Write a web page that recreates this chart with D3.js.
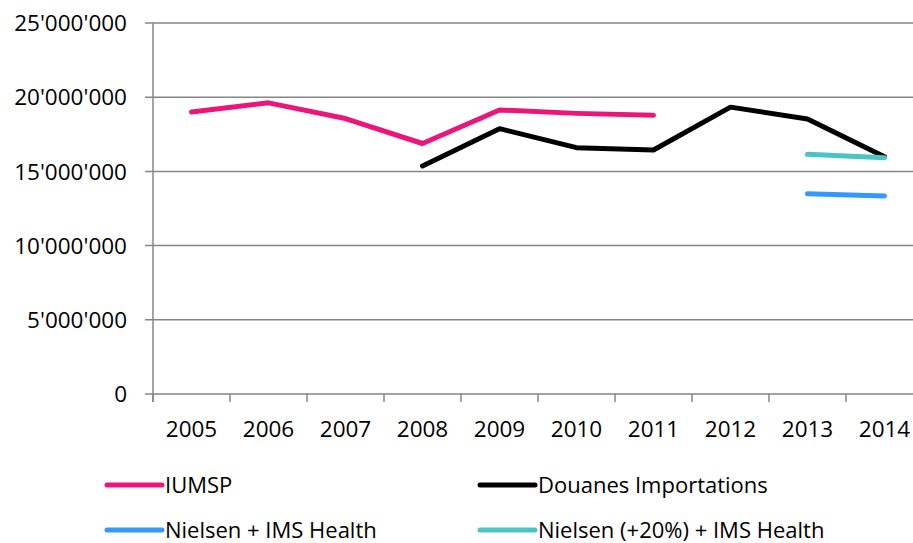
<!DOCTYPE html>
<html>
<head>
<meta charset="utf-8">
<script src="https://cdn.jsdelivr.net/npm/d3@7"></script>
<style>
  html, body { margin: 0; padding: 0; background: #fff; overflow: hidden; }
  svg text { font-family: "Open Sans", sans-serif; fill: #000; }
</style>
</head>
<body>
<svg id="chart" width="913" height="543"></svg>
<script>
const years = ["2005","2006","2007","2008","2009","2010","2011","2012","2013","2014"];
const iumsp = [19.0e6, 19.62e6, 18.56e6, 16.88e6, 19.14e6, 18.91e6, 18.78e6, null, null, null];
const douanes = [null, null, null, 15.37e6, 17.88e6, 16.6e6, 16.44e6, 19.33e6, 18.53e6, 15.99e6];
const nielsen = [null, null, null, null, null, null, null, null, 13.5e6, 13.34e6];
const nielsen20 = [null, null, null, null, null, null, null, null, 16.15e6, 15.92e6];
const yTicks = [0, 5e6, 10e6, 15e6, 20e6, 25e6];
const seriesNames = ["IUMSP", "Douanes Importations", "Nielsen + IMS Health", "Nielsen (+20%) + IMS Health"];
const seriesColors = ["#EC157B", "#000000", "#3399FF", "#4BC4C6"];

const series = [iumsp, douanes, nielsen, nielsen20];
const svg = d3.select("#chart");

const x = d3.scaleBand().domain(years).range([153, 923]);
const y = d3.scaleLinear().domain([0, 25e6]).range([394, 23]);
const fmt = v => d3.format(",")(v).replace(/,/g, "'");

// gridlines
svg.append("g").selectAll("line").data(yTicks).join("line")
  .attr("x1", 145).attr("x2", 913)
  .attr("y1", d => y(d)).attr("y2", d => y(d))
  .attr("stroke", "#868686").attr("stroke-width", 1.5);

// y axis line
svg.append("line").attr("x1", 153).attr("x2", 153).attr("y1", y(25e6)).attr("y2", 402)
  .attr("stroke", "#868686").attr("stroke-width", 1.5);

// y labels
svg.append("g").selectAll("text").data(yTicks).join("text")
  .attr("x", 127).attr("y", d => y(d)).attr("dy", "0.36em")
  .attr("text-anchor", "end").style("font-size", "22.5px")
  .text(d => fmt(d));

// x ticks at band boundaries
const bounds = years.map(d => x(d));
svg.append("g").selectAll("line").data(bounds).join("line")
  .attr("x1", d => d).attr("x2", d => d).attr("y1", 394).attr("y2", 402)
  .attr("stroke", "#868686").attr("stroke-width", 1.5);

// x labels
svg.append("g").selectAll("text").data(years).join("text")
  .attr("x", d => x(d) + x.bandwidth() / 2).attr("y", 437)
  .attr("text-anchor", "middle").style("font-size", "22.5px")
  .text(d => d);

// lines
const line = d3.line()
  .defined(d => d.v != null)
  .x(d => x(d.year) + x.bandwidth() / 2)
  .y(d => y(d.v));

series.forEach((s, i) => {
  svg.append("path")
    .datum(years.map((yr, j) => ({year: yr, v: s[j]})))
    .attr("fill", "none").attr("stroke", seriesColors[i])
    .attr("stroke-width", 5).attr("stroke-linecap", "round").attr("stroke-linejoin", "round")
    .attr("d", line);
});

// legend
const legPos = [[107, 485], [480, 485], [107, 530], [480, 530]];
seriesNames.forEach((name, i) => {
  const [lx, ly] = legPos[i];
  svg.append("line").attr("x1", lx).attr("x2", lx + 55).attr("y1", ly).attr("y2", ly)
    .attr("stroke", seriesColors[i]).attr("stroke-width", 5).attr("stroke-linecap", "round");
  svg.append("text").attr("x", lx + 58).attr("y", ly).attr("dy", "0.36em")
    .style("font-size", "22px").text(name);
});
</script>
</body>
</html>
